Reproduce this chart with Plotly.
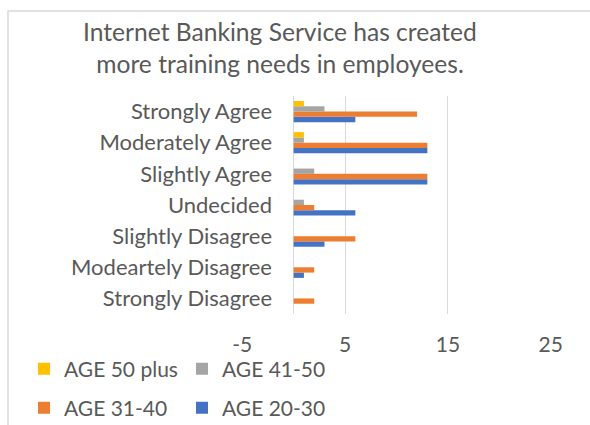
import plotly.graph_objects as go

# Survey responses (counts) by age group
categories = [
    "Strongly Disagree",
    "Modeartely Disagree",
    "Slightly Disagree",
    "Undecided",
    "Slightly Agree",
    "Moderately Agree",
    "Strongly Agree",
]
age_20_30 = [0, 1, 3, 6, 13, 13, 6]
age_31_40 = [2, 2, 6, 2, 13, 13, 12]
age_41_50 = [0, 0, 0, 1, 2, 1, 3]
age_50_plus = [0, 0, 0, 0, 0, 1, 1]

x_ticks = [-5, 5, 15, 25]
x_tick_labels = ["-5", "5", "15", "25"]

series = [
    ("AGE 20-30", age_20_30, "#4472C4", "legend2"),
    ("AGE 31-40", age_31_40, "#ED7D31", "legend2"),
    ("AGE 41-50", age_41_50, "#A5A5A5", "legend"),
    ("AGE 50 plus", age_50_plus, "#FFC000", "legend"),
]

FONT = "Lato"
TXT = "#595959"
FS = 21
W, H = 590, 425
L, R, T, B = 242, 39, 96, 111
pw, ph = W - L - R, H - T - B


def px_x(p):
    return (p - L) / pw


def px_y(p):
    return (H - B - p) / ph


fig = go.Figure()
for name, vals, color, leg in series:
    fig.add_trace(go.Bar(
        y=categories, x=vals, name=name, orientation="h",
        marker=dict(color=color, line=dict(width=0)),
        legend=leg,
    ))

legend_style = dict(
    orientation="h", traceorder="reversed",
    x=px_x(24), xanchor="left", yanchor="middle",
    entrywidth=113, font=dict(size=FS, color=TXT),
    bgcolor="rgba(0,0,0,0)",
)

fig.update_layout(
    width=W, height=H,
    margin=dict(l=L, r=R, t=T, b=B, autoexpand=False),
    paper_bgcolor="white", plot_bgcolor="white",
    barmode="group", bargap=0.32, bargroupgap=0,
    font=dict(family=FONT, color=TXT, size=FS),
    title=dict(
        text="Internet Banking Service has created<br>more training needs in employees.",
        x=280 / W, xanchor="center", y=1 - 41 / H, yanchor="middle",
        font=dict(family=FONT, size=24.6, color=TXT),
    ),
    xaxis=dict(
        range=[-5.02, 25.02], tickvals=x_ticks, ticktext=x_tick_labels,
        showgrid=True, gridcolor="#d9d9d9", gridwidth=1,
        zeroline=True, zerolinecolor="#d9d9d9", zerolinewidth=1,
        showline=False, ticks="", ticklabelstandoff=16, automargin=False,
        tickfont=dict(size=FS, color=TXT),
    ),
    yaxis=dict(
        anchor="free", position=px_x(293), side="left",
        showgrid=False, zeroline=False, showline=False, ticks="",
        ticklabelstandoff=21, automargin=False,
        tickfont=dict(size=22, color=TXT),
        categoryorder="array", categoryarray=categories,
    ),
    legend=dict(legend_style, y=px_y(369)),
    legend2=dict(legend_style, y=px_y(408)),
    shapes=[
        dict(type="rect", xref="paper", yref="paper",
             x0=px_x(8), x1=px_x(600), y0=px_y(440), y1=px_y(11),
             line=dict(color="#d9d9d9", width=1.5), layer="below"),
    ],
)

fig.write_html("out.html")
